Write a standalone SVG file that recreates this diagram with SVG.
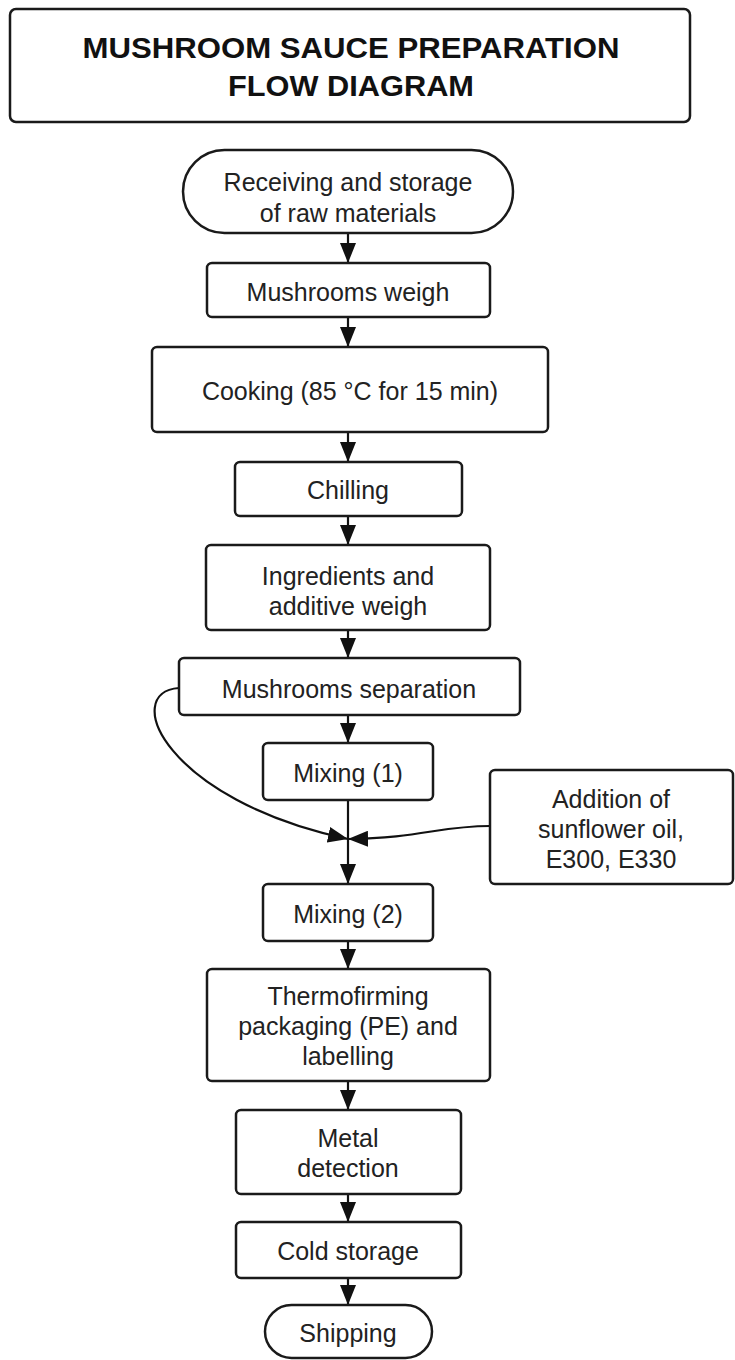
<svg xmlns="http://www.w3.org/2000/svg" width="735" height="1360" viewBox="0 0 735 1360">
<style>
.box{fill:#fff;stroke:#1a1a1a;stroke-width:2.5}
.t{font-family:"Liberation Sans",Arial,sans-serif;font-size:25px;fill:#222;text-anchor:middle}
.title{font-family:"Liberation Sans",Arial,sans-serif;font-size:29px;font-weight:bold;fill:#111;text-anchor:middle}
.c{fill:none;stroke:#111;stroke-width:2.2}
</style>
<defs>
<marker id="ah" viewBox="0 0 20 16" refX="20" refY="8" markerWidth="20" markerHeight="16" markerUnits="userSpaceOnUse" orient="auto">
<path d="M0,0 L20,8 L0,16 Z" fill="#111"/>
</marker>
</defs>
<rect width="735" height="1360" fill="#fff"/>
<g id="connectors">
<path class="c" d="M348,233 V263" marker-end="url(#ah)"/>
<path class="c" d="M348,317 V347" marker-end="url(#ah)"/>
<path class="c" d="M348,432 V462" marker-end="url(#ah)"/>
<path class="c" d="M348,516 V545" marker-end="url(#ah)"/>
<path class="c" d="M348,630 V658" marker-end="url(#ah)"/>
<path class="c" d="M348,715 V743" marker-end="url(#ah)"/>
<path class="c" d="M348,800 V884" marker-end="url(#ah)"/>
<path class="c" d="M179,688 C120,692 165,800 348,839" marker-end="url(#ah)"/>
<path class="c" d="M490,826 C440,826 420,838 348,839" marker-end="url(#ah)"/>
<path class="c" d="M348,941 V969" marker-end="url(#ah)"/>
<path class="c" d="M348,1081 V1110" marker-end="url(#ah)"/>
<path class="c" d="M348,1194 V1222" marker-end="url(#ah)"/>
<path class="c" d="M348,1278 V1305" marker-end="url(#ah)"/>
</g>
<g id="title">
<rect class="box" x="10" y="9" width="680" height="113" rx="6"/>
<text class="title" x="351" y="58" textLength="537" lengthAdjust="spacingAndGlyphs">MUSHROOM SAUCE PREPARATION</text>
<text class="title" x="351" y="96" textLength="246" lengthAdjust="spacingAndGlyphs">FLOW DIAGRAM</text>
</g>
<g id="receiving">
<rect class="box" x="183" y="150" width="330" height="83" rx="41.5"/>
<text class="t" x="348" y="191">Receiving and storage</text>
<text class="t" x="348" y="222">of raw materials</text>
</g>
<g id="weigh">
<rect class="box" x="207" y="263" width="283" height="54" rx="5"/>
<text class="t" x="348" y="301">Mushrooms weigh</text>
</g>
<g id="cooking">
<rect class="box" x="152" y="347" width="396" height="85" rx="5"/>
<text class="t" x="350" y="400">Cooking (85 °C for 15 min)</text>
</g>
<g id="chilling">
<rect class="box" x="235" y="462" width="227" height="54" rx="5"/>
<text class="t" x="348" y="499">Chilling</text>
</g>
<g id="ingredients">
<rect class="box" x="206" y="545" width="284" height="85" rx="5"/>
<text class="t" x="348" y="585">Ingredients and</text>
<text class="t" x="348" y="615">additive weigh</text>
</g>
<g id="separation">
<rect class="box" x="179" y="658" width="341" height="57" rx="5"/>
<text class="t" x="349" y="698">Mushrooms separation</text>
</g>
<g id="mixing1">
<rect class="box" x="263" y="743" width="170" height="57" rx="5"/>
<text class="t" x="348" y="782">Mixing (1)</text>
</g>
<g id="addition">
<rect class="box" x="490" y="770" width="243" height="114" rx="5"/>
<text class="t" x="611" y="808">Addition of</text>
<text class="t" x="611" y="838">sunflower oil,</text>
<text class="t" x="611" y="868">E300, E330</text>
</g>
<g id="mixing2">
<rect class="box" x="263" y="884" width="170" height="57" rx="5"/>
<text class="t" x="348" y="923">Mixing (2)</text>
</g>
<g id="packaging">
<rect class="box" x="207" y="969" width="283" height="112" rx="5"/>
<text class="t" x="348" y="1005">Thermofirming</text>
<text class="t" x="348" y="1035">packaging (PE) and</text>
<text class="t" x="348" y="1065">labelling</text>
</g>
<g id="metal">
<rect class="box" x="236" y="1110" width="225" height="84" rx="5"/>
<text class="t" x="348" y="1147">Metal</text>
<text class="t" x="348" y="1177">detection</text>
</g>
<g id="cold">
<rect class="box" x="236" y="1222" width="225" height="56" rx="5"/>
<text class="t" x="348" y="1260">Cold storage</text>
</g>
<g id="shipping">
<rect class="box" x="265" y="1305" width="167" height="53" rx="26.5"/>
<text class="t" x="348" y="1342">Shipping</text>
</g>
</svg>
